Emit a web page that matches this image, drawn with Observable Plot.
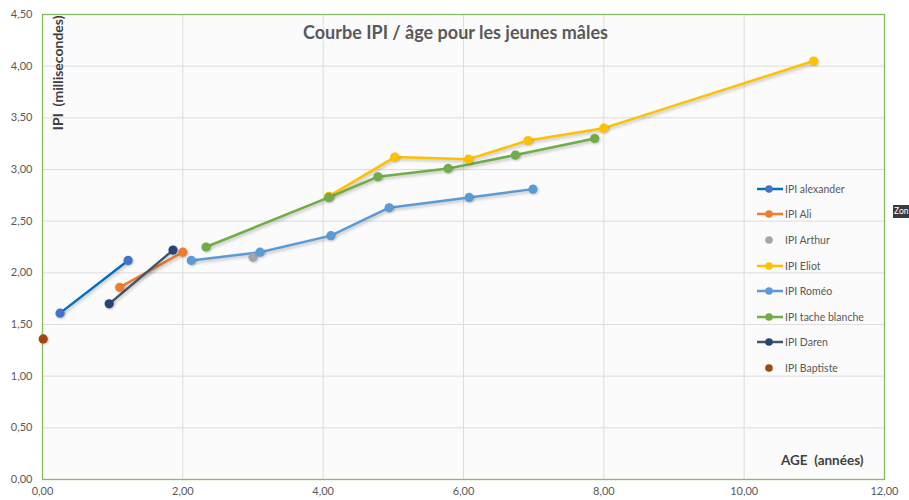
<!DOCTYPE html>
<html><head><meta charset="utf-8">
<script src="https://cdn.jsdelivr.net/npm/d3@7"></script>
<script src="https://cdn.jsdelivr.net/npm/@observablehq/plot@0.6"></script>
<style>
html,body{margin:0;padding:0;background:#fff;overflow:hidden;}
#wrap{position:relative;width:909px;height:500px;font-family:Lato,"Open Sans",sans-serif;}
#wrap svg{position:absolute;left:0;top:0;overflow:visible;}
g[aria-label="line"]{filter:drop-shadow(1px 2px 1.5px rgba(0,0,0,0.22));}
g[aria-label="dot"]{filter:drop-shadow(1px 1.5px 1px rgba(0,0,0,0.2));}
#legend{position:absolute;left:757px;top:176px;font-size:10.5px;color:#595959;}
#legend .row{height:25.6px;display:flex;align-items:center;white-space:nowrap;}
#legend svg{position:static;margin-right:1px;}
#tip{position:absolute;left:893px;top:205px;height:13px;width:16px;background:#3a3a3a;color:#fff;font-size:8.5px;line-height:13px;padding-left:1px;font-family:Lato,sans-serif;overflow:hidden;white-space:nowrap;}
</style></head><body>
<div id="wrap"><div id="legend"></div><div id="tip">Zon</div></div>
<script>
// ---- data ----
const seriesNames = ["IPI alexander","IPI Ali","IPI Arthur","IPI Eliot","IPI Roméo","IPI tache blanche","IPI Daren","IPI Baptiste"];
const lineColors   = ["#0070C0","#ED7D31",null,"#FFC000","#5B9BD5","#70AD47","#44546A",null];
const markerColors = ["#4472C4","#ED7D31","#A5A5A5","#FFC000","#5B9BD5","#70AD47","#264478","#9E480E"];

const alexanderAge = [0.25, 1.22];
const alexanderIPI = [1.61, 2.12];
const aliAge = [1.10, 2.00];
const aliIPI = [1.86, 2.20];
const arthurAge = [3.00];
const arthurIPI = [2.15];
const eliotAge = [4.08, 5.02, 6.07, 6.92, 8.00, 10.99];
const eliotIPI = [2.74, 3.12, 3.10, 3.28, 3.40, 4.05];
const romeoAge = [2.12, 3.10, 4.11, 4.94, 6.08, 6.99];
const romeoIPI = [2.12, 2.20, 2.36, 2.63, 2.73, 2.81];
const tacheAge = [2.33, 4.08, 4.78, 5.78, 6.74, 7.87];
const tacheIPI = [2.25, 2.73, 2.93, 3.01, 3.14, 3.30];
const darenAge = [0.95, 1.86];
const darenIPI = [1.70, 2.22];
const baptisteAge = [0.01];
const baptisteIPI = [1.36];

const xTicks = [0, 2, 4, 6, 8, 10, 12];
const yTicks = [0, 0.5, 1, 1.5, 2, 2.5, 3, 3.5, 4, 4.5];

const titleText = "Courbe IPI / âge pour les jeunes mâles";
const yLabelText = "IPI  (millisecondes)";
const xLabelText = "AGE  (années)";

// ---- build table ----
const ageArrays = [alexanderAge, aliAge, arthurAge, eliotAge, romeoAge, tacheAge, darenAge, baptisteAge];
const ipiArrays = [alexanderIPI, aliIPI, arthurIPI, eliotIPI, romeoIPI, tacheIPI, darenIPI, baptisteIPI];
const rows = [];
seriesNames.forEach((n, i) => ageArrays[i].forEach((a, j) => rows.push({serie: n, idx: i, age: a, ipi: ipiArrays[i][j]})));

const fmt = v => v.toFixed(2).replace(".", ",");

const lineMarks = seriesNames.map((n, i) => lineColors[i] ?
  Plot.line(rows.filter(d => d.idx === i), {x: "age", y: "ipi", stroke: lineColors[i], strokeWidth: 2.5}) : null).filter(Boolean);
const dotMarks = seriesNames.map((n, i) =>
  Plot.dot(rows.filter(d => d.idx === i), {x: "age", y: "ipi", r: 4.6, fill: markerColors[i], stroke: "none"}));

const chart = Plot.plot({
  width: 909, height: 500,
  marginLeft: 42, marginRight: 25, marginTop: 14, marginBottom: 21,
  style: {fontFamily: "Lato, 'Open Sans', sans-serif", fontSize: "11px", color: "#595959", background: "transparent"},
  x: {domain: [0, 12], ticks: xTicks, tickFormat: fmt, tickSize: 0, tickPadding: 8, label: null},
  y: {domain: [0, 4.5], ticks: yTicks, tickFormat: fmt, tickSize: 0, tickPadding: 10, label: null},
  marks: [
    Plot.frame({fill: "#fbfbfb", stroke: "none"}),
    Plot.ruleX(xTicks, {stroke: "#dddddd", strokeWidth: 1}),
    Plot.ruleY(yTicks, {stroke: "#dddddd", strokeWidth: 1}),
    Plot.frame({stroke: "#86BC5E", strokeWidth: 1.3}),
    ...lineMarks,
    ...dotMarks,
    Plot.text([titleText], {frameAnchor: "top", dx: -8, dy: 19, fontSize: 18, fontWeight: "bold", fill: "#595959", lineAnchor: "middle"}),
    Plot.text([yLabelText], {frameAnchor: "top-left", dx: 16, dy: 1, rotate: -90, textAnchor: "end", fontSize: 14, fontWeight: "bold", fill: "#404040", lineAnchor: "middle"}),
    Plot.text([xLabelText], {frameAnchor: "bottom-right", dx: -21, dy: -19, textAnchor: "end", fontSize: 13.5, fontWeight: "bold", fill: "#404040", lineAnchor: "middle"})
  ]
});
document.getElementById("wrap").prepend(chart);

// ---- legend ----
const legend = d3.select("#legend");
seriesNames.forEach((n, i) => {
  const row = legend.append("div").attr("class", "row");
  const s = row.append("svg").attr("width", 27).attr("height", 10);
  if (lineColors[i]) s.append("line").attr("x1", 0).attr("x2", 26).attr("y1", 5).attr("y2", 5).attr("stroke", lineColors[i]).attr("stroke-width", 2.5);
  s.append("circle").attr("cx", 12).attr("cy", 5).attr("r", 3.8).attr("fill", markerColors[i]);
  row.append("span").text(n);
});
</script>
</body></html>
